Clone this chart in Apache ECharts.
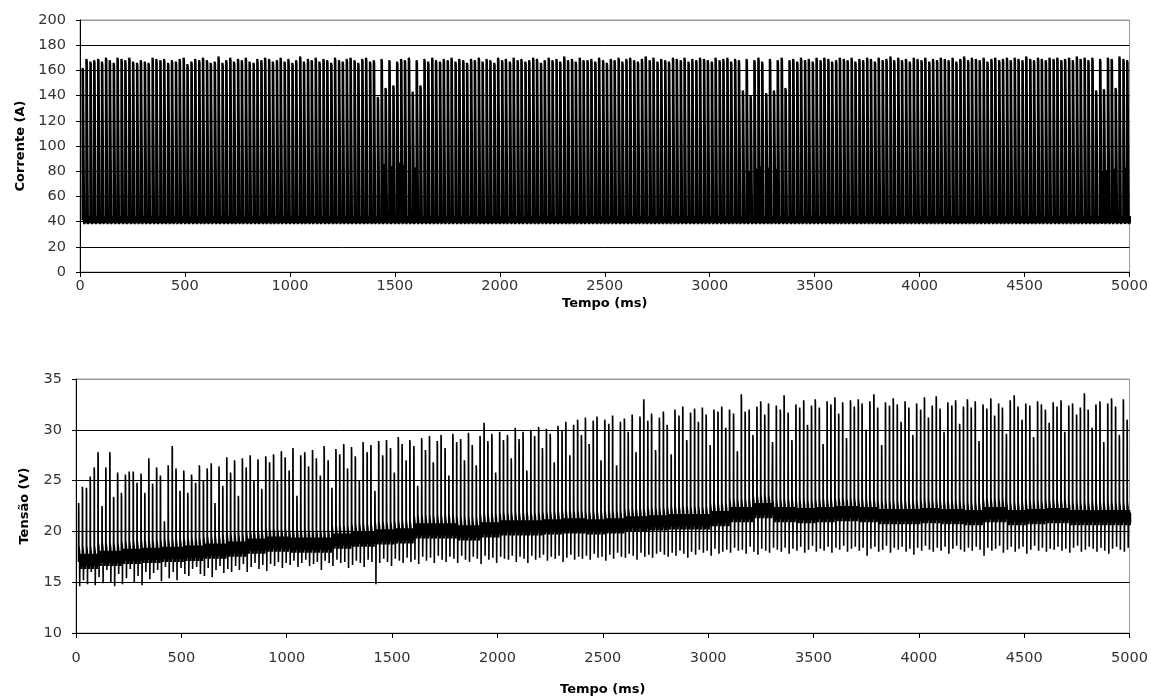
<!DOCTYPE html>
<html>
<head>
<meta charset="utf-8">
<script src="https://cdn.jsdelivr.net/npm/echarts@6/dist/echarts.min.js"></script>
<style>
html,body{margin:0;padding:0;background:#fff;}
#chart{width:1151px;height:697px;}
</style>
</head>
<body>
<div id="chart"></div>
<script>
// ---- axis ticks / labels ----
const xTicks = [0, 500, 1000, 1500, 2000, 2500, 3000, 3500, 4000, 4500, 5000];
const currentTicks = [0, 20, 40, 60, 80, 100, 120, 140, 160, 180, 200];
const voltageTicks = [10, 15, 20, 25, 30, 35];
const xTitle = "Tempo (ms)";
const currentTitle = "Corrente (A)";
const voltageTitle = "Tensão (V)";

// ---- pulse start times (ms) ----
const pulseTimes = [
  12,30,49,67,86,104,123,141,160,178,
  197,215,234,252,271,289,308,326,345,363,
  382,400,419,437,456,474,493,511,530,548,
  567,585,604,622,641,659,678,696,715,733,
  752,770,789,807,826,844,863,881,900,918,
  937,955,974,992,1011,1029,1048,1066,1085,1103,
  1122,1140,1159,1177,1196,1214,1233,1251,1270,1288,
  1307,1325,1344,1362,1381,1399,1418,1436,1455,1473,
  1492,1510,1529,1547,1566,1584,1603,1621,1640,1658,
  1677,1695,1714,1732,1751,1769,1788,1806,1825,1843,
  1862,1880,1899,1917,1936,1954,1973,1991,2010,2028,
  2047,2065,2084,2102,2121,2139,2158,2176,2195,2213,
  2232,2250,2269,2287,2306,2324,2343,2361,2380,2398,
  2417,2435,2454,2472,2491,2509,2528,2546,2565,2583,
  2602,2620,2639,2657,2676,2694,2713,2731,2750,2768,
  2787,2805,2824,2842,2861,2879,2898,2916,2935,2953,
  2972,2990,3009,3027,3046,3064,3083,3101,3120,3138,
  3157,3175,3194,3212,3231,3249,3268,3286,3305,3323,
  3342,3360,3379,3397,3416,3434,3453,3471,3490,3508,
  3527,3545,3564,3582,3601,3619,3638,3656,3675,3693,
  3712,3730,3749,3767,3786,3804,3823,3841,3860,3878,
  3897,3915,3934,3952,3971,3989,4008,4026,4045,4063,
  4082,4100,4119,4137,4156,4174,4193,4211,4230,4248,
  4267,4285,4304,4322,4341,4359,4378,4396,4415,4433,
  4452,4470,4489,4507,4526,4544,4563,4581,4600,4618,
  4637,4655,4674,4692,4711,4729,4748,4766,4785,4803,
  4822,4840,4859,4877,4896,4914,4933,4951,4970,4988
];

// ---- current: peak of each pulse (A) ----
const currentPeaks = [
  162,169,167,168,169,167,170,168,166,170,
  169,168,170,167,166,168,167,166,170,169,
  168,169,166,168,167,169,170,165,167,169,
  168,170,168,166,167,171,166,168,170,167,
  169,168,170,167,166,169,168,170,169,167,
  168,170,167,169,166,168,171,167,169,168,
  170,167,169,168,166,170,168,167,169,170,
  168,166,169,170,167,168,139,169,146,168,
  148,167,169,168,170,143,168,148,169,167,
  170,168,167,169,168,170,167,169,168,166,
  169,168,170,167,169,168,166,170,168,169,
  167,170,168,169,167,168,170,169,166,168,
  170,168,169,167,171,168,169,167,170,168,
  168,169,167,170,168,166,169,168,170,167,
  169,170,168,167,169,171,168,170,167,169,
  168,167,170,169,168,170,167,169,168,170,
  169,168,167,170,168,169,170,167,169,168,
  144,169,140,168,170,167,142,169,144,168,
  170,146,168,169,167,170,168,169,167,170,
  168,170,169,167,168,170,169,168,170,167,
  169,168,170,169,167,170,168,169,171,168,
  170,168,169,167,170,169,168,170,167,169,
  168,170,169,168,170,167,169,171,168,170,
  169,168,170,167,169,170,168,169,170,168,
  170,169,168,171,169,168,170,169,168,170,
  169,170,168,169,170,168,171,169,170,168,
  170,144,169,145,170,169,146,171,169,168
];
const currentBase = 41;
const currentRipple = [3, -2, 2.5, -1.5, 3.5, -2.5, 2, -1, 3, -2];
// short partial spikes seen as thin grey lines: [time ms, peak A]
const currentPartialSpikes = [
  [1445,86],[1482,84],[1520,87],[1538,85],[1594,83],
  [3184,80],[3222,82],[3240,84],[3277,83],[3314,82],
  [4867,80],[4886,81],[4924,82],[4978,83]
];

// ---- voltage: per pulse peak and dip (V) ----
const voltagePeaks = [
  22.8,24.4,24.3,25.4,26.3,27.8,22.5,26.3,27.8,23.4,
  25.8,23.8,25.6,25.9,25.9,24.8,25.7,23.8,27.2,24.7,
  26.3,25.5,21.0,26.5,28.4,26.2,24.0,26.0,23.8,25.6,
  24.8,26.5,25.0,26.2,26.7,22.8,26.4,24.5,27.3,25.8,
  27.0,23.5,27.2,26.3,27.5,25.0,27.1,24.2,27.4,26.8,
  27.6,25.0,27.9,27.3,26.0,28.2,23.5,27.5,27.8,26.4,
  28.0,27.2,25.5,28.4,27.0,24.3,28.1,27.6,28.6,26.2,
  28.3,27.4,25.0,28.8,27.8,28.5,24.0,28.9,27.5,29.0,
  28.2,25.8,29.3,28.6,27.0,29.0,28.4,24.5,29.2,28.0,
  29.4,26.8,28.9,29.5,28.2,25.5,29.6,28.8,29.1,27.0,
  29.7,28.5,26.5,29.4,30.7,28.9,29.6,25.8,29.8,29.0,
  29.5,27.2,30.2,29.1,29.8,26.0,30.0,29.4,30.3,28.2,
  30.1,29.6,26.8,30.4,29.9,30.8,27.5,30.5,31.0,29.5,
  31.2,28.6,30.9,31.3,27.0,31.0,30.6,31.4,26.5,30.8,
  31.1,29.8,31.5,27.8,31.3,33.0,30.9,31.6,28.0,31.2,
  31.8,30.5,27.6,32.0,31.4,32.3,29.0,31.7,32.1,30.8,
  32.2,31.5,28.5,32.0,31.8,32.3,30.2,32.0,31.6,27.9,
  33.5,31.8,32.0,29.5,32.3,32.8,31.5,32.6,28.8,32.4,
  32.0,33.4,31.7,29.0,32.5,32.2,32.9,30.5,32.4,33.0,
  32.2,28.6,32.8,32.5,33.2,31.6,32.7,29.2,32.9,32.3,
  33.0,32.6,30.0,32.8,33.5,32.2,28.5,32.7,32.4,33.1,
  32.5,30.8,32.8,32.2,29.5,32.6,32.0,33.2,31.2,32.4,
  33.3,32.1,29.8,32.7,32.4,32.9,30.6,32.3,33.0,32.2,
  32.8,28.9,32.5,32.1,33.1,31.4,32.6,32.2,29.6,32.9,
  33.4,32.3,31.0,32.6,32.4,29.3,32.8,32.5,32.0,30.7,
  32.7,32.3,32.9,29.8,32.4,32.6,31.5,32.2,33.6,32.0,
  30.2,32.5,32.8,28.8,32.6,33.1,32.3,29.5,33.0,31.0
];
const voltageDips = [
  14.6,15.2,14.8,16.0,14.7,15.5,14.9,16.2,15.0,14.6,
  15.8,14.8,15.4,16.3,15.0,15.6,14.7,16.0,15.3,15.9,
  16.2,15.1,16.5,15.4,16.0,15.2,16.4,15.8,15.6,16.3,
  16.5,15.8,15.6,16.4,15.5,16.2,16.6,15.9,16.3,16.0,
  16.6,16.2,16.8,16.0,16.5,16.9,16.3,16.7,16.1,16.8,
  16.6,17.0,16.4,16.9,16.7,17.1,16.5,16.9,17.2,16.6,
  16.8,17.0,16.2,17.1,16.9,16.6,17.2,16.9,17.0,16.4,
  16.7,17.1,16.9,16.5,17.2,17.0,14.8,16.9,17.3,17.0,
  16.6,17.3,17.1,16.9,17.4,17.0,17.2,16.8,17.5,17.1,
  17.4,16.9,17.6,17.2,17.0,17.5,17.3,16.9,17.6,17.2,
  17.0,17.5,17.3,16.8,17.6,17.2,17.4,16.9,17.5,17.3,
  17.2,17.6,17.0,17.5,17.3,16.9,17.6,17.2,17.4,17.7,
  17.1,17.5,17.3,17.6,17.0,17.4,17.7,17.2,17.5,17.3,
  17.6,17.2,17.8,17.4,17.5,17.1,17.7,17.3,17.9,17.5,
  17.4,17.8,17.6,17.2,17.9,17.5,17.7,17.4,17.8,18.0,
  17.7,17.5,17.9,17.6,18.1,17.8,17.4,18.0,17.7,18.2,
  17.9,18.1,17.6,18.3,17.8,18.0,18.2,17.9,18.4,18.1,
  18.2,17.8,18.5,18.0,17.7,18.3,18.1,17.9,18.4,18.2,
  18.0,18.4,17.8,18.3,18.1,18.5,17.9,18.2,18.6,18.0,
  18.3,18.1,18.5,17.9,18.4,18.2,18.6,18.0,18.3,18.5,
  18.1,18.4,17.6,18.3,18.5,18.0,18.2,18.6,17.9,18.4,
  18.2,18.5,18.0,18.3,17.7,18.4,18.1,18.6,18.2,18.0,
  18.4,18.1,18.5,17.8,18.3,18.6,18.2,18.0,18.4,18.1,
  18.5,18.2,17.6,18.4,18.1,18.3,18.6,17.9,18.2,18.5,
  18.0,18.3,18.5,17.8,18.2,18.6,18.1,18.4,18.0,18.3,
  18.2,18.5,18.1,18.3,17.9,18.4,18.6,18.0,18.2,18.5,
  18.3,18.0,18.4,18.1,17.8,18.3,18.5,18.2,18.0,18.4
];
// voltage level between pulses, one value per 100 ms (V)
const voltageBase = [
  17.0,17.3,17.5,17.6,17.7,17.8,18.0,18.2,18.5,18.7,
  18.6,18.6,19.0,19.2,19.4,19.5,20.0,20.0,19.8,20.1,
  20.3,20.3,20.4,20.5,20.4,20.5,20.7,20.8,20.9,20.9,
  21.2,21.6,22.0,21.6,21.5,21.6,21.7,21.6,21.4,21.4,
  21.5,21.4,21.3,21.6,21.3,21.4,21.5,21.3,21.3,21.3
];
// ripple of the voltage band between pulses (V)
const voltageRipple = [0.7, -0.6, 0.5, -0.7, 0.8, -0.5, 0.6, -0.7, 0.5, -0.4];

// ---- build line data from the values above ----
function buildCurrent() {
  const pts = [];
  const b = currentBase;
  for (let i = 0; i < pulseTimes.length; i++) {
    const t = pulseTimes[i], p = currentPeaks[i];
    pts.push([t, b], [t + 0.3, p], [t + 2.5, p - 2], [t + 5, p - 0.5], [t + 7.5, p - 1.5], [t + 7.8, b - 3]);
    for (let k = 0; k < currentRipple.length; k++) pts.push([t + 8.8 + k * 0.95, b + currentRipple[k]]);
  }
  currentPartialSpikes.forEach(s => {
    pts.push([s[0] - 0.3, b], [s[0], s[1]], [s[0] + 0.3, b]);
  });
  pts.sort((a, c) => a[0] - c[0]);
  return pts;
}
function buildVoltage() {
  const pts = [];
  for (let i = 0; i < pulseTimes.length; i++) {
    const t = pulseTimes[i];
    const b = voltageBase[Math.min(voltageBase.length - 1, Math.floor(t / 100))];
    const p = voltagePeaks[i], d = voltageDips[i];
    pts.push([t, b], [t + 0.4, p], [t + 1.2, p - 0.4], [t + 1.6, b + 1.6], [t + 5, b + 1], [t + 5.5, d], [t + 6.5, b + 0.4]);
    for (let k = 0; k < voltageRipple.length; k++) pts.push([t + 7.5 + k * 1.05, b + voltageRipple[k]]);
  }
  return pts;
}

const labelFont = { fontFamily: 'DejaVu Sans', fontSize: 14.5, color: '#333' };
const titleFont = { fontFamily: 'DejaVu Sans', fontSize: 13, fontWeight: 'bold', color: '#000' };
const plainNumber = v => String(v);

function splitColors(n) {
  const arr = [];
  for (let i = 0; i < n; i++) arr.push(i === n - 1 ? '#999' : '#000');
  return arr;
}

const chart = echarts.init(document.getElementById('chart'), null, { renderer: 'canvas' });
chart.setOption({
  animation: false,
  backgroundColor: '#fff',
  grid: [
    { left: 80, top: 20, width: 1052, height: 252, show: true, borderColor: '#999', borderWidth: 1 },
    { left: 76, top: 379, width: 1058, height: 254, show: true, borderColor: '#999', borderWidth: 1 }
  ],
  xAxis: [
    {
      gridIndex: 0, type: 'value', min: xTicks[0], max: xTicks[xTicks.length - 1], interval: xTicks[1] - xTicks[0],
      axisLine: { lineStyle: { color: '#000', width: 1 } },
      axisTick: { show: true, length: 5, lineStyle: { color: '#000' } },
      axisLabel: Object.assign({ margin: 7, formatter: plainNumber }, labelFont),
      splitLine: { show: false },
      name: xTitle, nameLocation: 'middle', nameGap: 25, nameTextStyle: titleFont
    },
    {
      gridIndex: 1, type: 'value', min: xTicks[0], max: xTicks[xTicks.length - 1], interval: xTicks[1] - xTicks[0],
      axisLine: { lineStyle: { color: '#000', width: 1 } },
      axisTick: { show: true, length: 5, lineStyle: { color: '#000' } },
      axisLabel: Object.assign({ margin: 18, formatter: plainNumber }, labelFont),
      splitLine: { show: false },
      name: xTitle, nameLocation: 'middle', nameGap: 50, nameTextStyle: titleFont
    }
  ],
  yAxis: [
    {
      gridIndex: 0, type: 'value', min: currentTicks[0], max: currentTicks[currentTicks.length - 1], interval: currentTicks[1] - currentTicks[0],
      axisLine: { show: true, lineStyle: { color: '#000', width: 1 } },
      axisTick: { show: true, length: 4, lineStyle: { color: '#000' } },
      axisLabel: Object.assign({ margin: 14, formatter: plainNumber }, labelFont),
      splitLine: { show: true, lineStyle: { color: splitColors(currentTicks.length), width: 1 } },
      name: currentTitle, nameLocation: 'middle', nameGap: 52, nameTextStyle: titleFont
    },
    {
      gridIndex: 1, type: 'value', min: voltageTicks[0], max: voltageTicks[voltageTicks.length - 1], interval: voltageTicks[1] - voltageTicks[0],
      axisLine: { show: true, lineStyle: { color: '#000', width: 1 } },
      axisTick: { show: true, length: 4, lineStyle: { color: '#000' } },
      axisLabel: Object.assign({ margin: 14, formatter: plainNumber }, labelFont),
      splitLine: { show: true, lineStyle: { color: splitColors(voltageTicks.length), width: 1 } },
      name: voltageTitle, nameLocation: 'middle', nameGap: 45, nameTextStyle: titleFont
    }
  ],
  series: [
    {
      type: 'line', xAxisIndex: 0, yAxisIndex: 0, data: buildCurrent(),
      showSymbol: false, symbol: 'none', sampling: null, silent: true,
      lineStyle: { color: '#000', width: 2.2, join: 'bevel' }, z: 3
    },
    {
      type: 'line', xAxisIndex: 1, yAxisIndex: 1, data: buildVoltage(),
      showSymbol: false, symbol: 'none', sampling: null, silent: true,
      lineStyle: { color: '#000', width: 1.6, join: 'bevel' }, z: 3
    }
  ]
});
</script>
</body>
</html>
